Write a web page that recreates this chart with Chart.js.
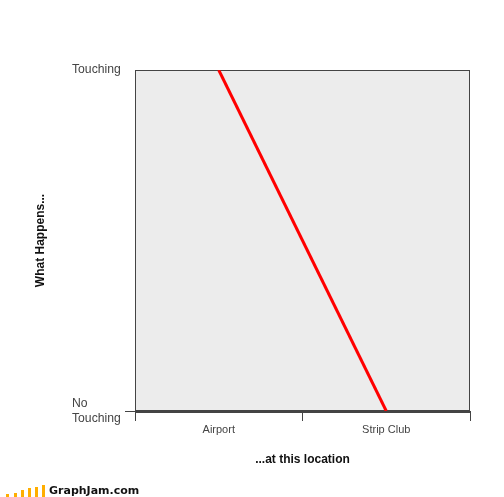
<!DOCTYPE html>
<html>
<head>
<meta charset="utf-8">
<style>
  body { margin: 0; background: #fff; }
  #wrap { position: relative; width: 504px; height: 497px; overflow: hidden; }
  canvas { display: block; }
  .bar { position: absolute; bottom: 0; width: 3px; background: #ffae00; }
  .site { position: absolute; left: 49px; top: 484px; font: bold 11px "DejaVu Sans", sans-serif; color: #111; white-space: nowrap; }
</style>
<script src="https://cdn.jsdelivr.net/npm/chart.js@4"></script>
</head>
<body>
<div id="wrap">
  <canvas class="graph" width="504" height="497"></canvas>
  <div class="bar" style="left:6px;height:3px"></div>
  <div class="bar" style="left:14px;height:4px"></div>
  <div class="bar" style="left:21px;height:7px"></div>
  <div class="bar" style="left:28px;height:9px"></div>
  <div class="bar" style="left:35px;height:10px"></div>
  <div class="bar" style="left:42px;height:12px"></div>
  <div class="site">GraphJam.com</div>
</div>
<script>
const categories = ['Airport', 'Strip Club'];
const touching = [1, 0];
const yTickLabels = [['No', 'Touching'], 'Touching'];
const xTitle = '...at this location';
const yTitle = 'What Happens...';

const textColor = '#444';
const labelFont = { family: '"Liberation Sans", Arial, sans-serif', size: 12.2 };
const titleFont = { family: '"Liberation Sans", Arial, sans-serif', size: 12, weight: 'bold' };

// grey plot background and the thin frame round it
const plotFrame = {
  id: 'plotFrame',
  beforeDatasetsDraw(chart) {
    const { ctx, chartArea: a } = chart;
    ctx.save();
    ctx.fillStyle = '#ececec';
    ctx.fillRect(a.left, a.top, a.width, a.height);
    ctx.strokeStyle = textColor;
    ctx.lineWidth = 1;
    ctx.strokeRect(a.left + 0.5, a.top + 0.5, a.width - 1, a.height);
    ctx.fillStyle = textColor;
    ctx.fillRect(a.left, a.bottom - 1, a.width, 3);
    ctx.restore();
  },
};

new Chart(document.querySelector('.graph'), {
  type: 'line',
  plugins: [plotFrame],
  data: {
    labels: categories,
    datasets: [
      {
        data: touching,
        borderColor: '#ff0000',
        borderWidth: 3,
        pointRadius: 0,
        tension: 0,
      },
    ],
  },
  options: {
    responsive: false,
    animation: false,
    devicePixelRatio: 1,
    layout: { padding: { top: 70, right: 34, bottom: 30, left: 33 } },
    plugins: { legend: { display: false }, tooltip: { enabled: false } },
    scales: {
      x: {
        offset: true,
        border: { color: textColor, width: 1 },
        grid: { offset: true, drawOnChartArea: false, color: textColor, tickLength: 10 },
        ticks: { color: textColor, font: { ...labelFont, size: 11 }, padding: 2, maxRotation: 0 },
        title: { display: true, text: xTitle, color: '#111', font: titleFont, padding: { top: 12, bottom: 0 } },
        afterFit: (scale) => { scale.height = 56; },
      },
      y: {
        min: 0,
        max: 1,
        weight: 1,
        border: { color: textColor, width: 1 },
        grid: {
          drawOnChartArea: false,
          tickLength: 10,
          tickColor: (c) => (c.tick.value === 0 ? textColor : 'transparent'),
        },
        ticks: {
          stepSize: 1,
          color: textColor,
          font: labelFont,
          crossAlign: 'far',
          padding: 4,
          callback: (value) => yTickLabels[value],
        },
        afterFit: (scale) => { scale.width = 63; },
      },
      yTitleAxis: {
        position: 'left',
        weight: 2,
        border: { display: false },
        grid: { display: false },
        ticks: { display: false },
        title: { display: true, text: yTitle, color: '#111', font: titleFont, padding: 0 },
        afterFit: (scale) => { scale.width = 39; },
      },
    },
  },
});
</script>
</body>
</html>
